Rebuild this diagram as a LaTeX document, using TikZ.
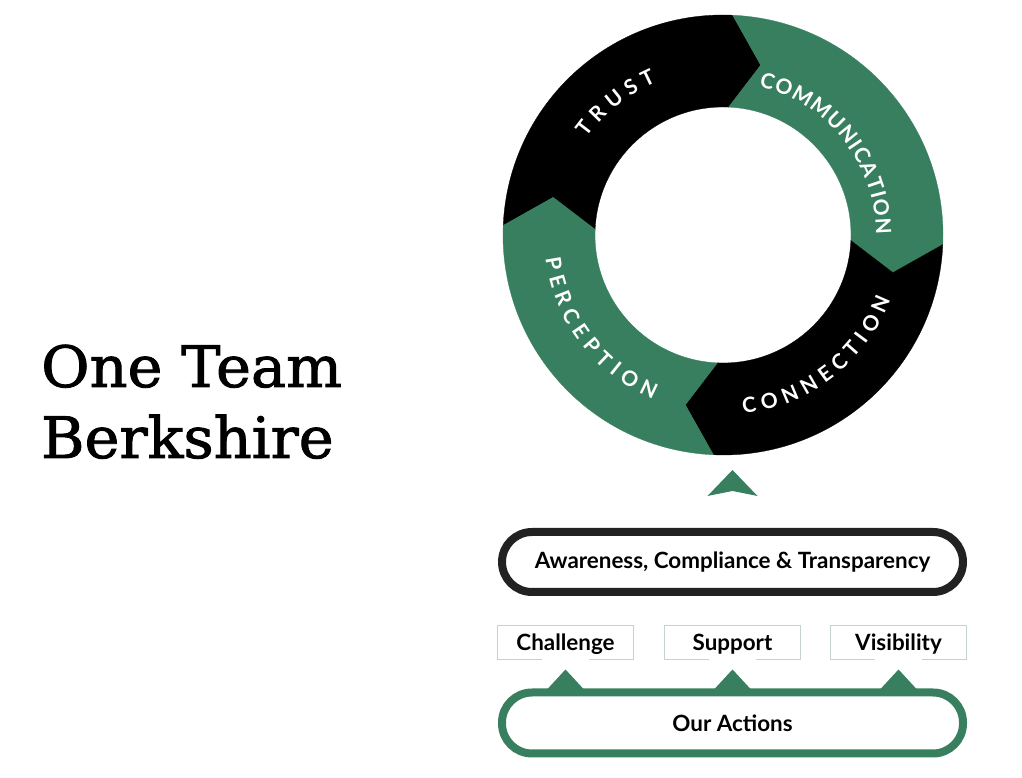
\documentclass[tikz,border=0pt]{standalone}
\usepackage{fontspec}
\setmainfont{Lato}
\newfontfamily\titlefont[FakeBold=1.6, FakeStretch=1.035]{DejaVu Serif}
\usetikzlibrary{positioning,calc,decorations.text}
\definecolor{teamgreen}{RGB}{55,127,95}
\definecolor{boxgray}{RGB}{200,210,205}
\definecolor{pilldark}{RGB}{34,34,34}
\newcommand\ringfont{\fontsize{21}{23}\selectfont\bfseries}
\tikzset{
  goal pill/.style={
    rectangle, rounded corners=30pt, draw=pilldark, line width=8pt,
    minimum width=461pt, minimum height=60pt, inner sep=0pt, outer sep=0pt,
    font=\fontsize{22.4}{27}\selectfont\bfseries
  },
  action pill/.style={goal pill, draw=teamgreen, minimum height=61pt, text depth=0pt},
  value box/.style={
    rectangle, draw=boxgray, line width=1pt,
    minimum width=136pt, minimum height=34pt, inner sep=0pt, outer sep=0pt,
    text depth=0pt, font=\fontsize{22.4}{27}\selectfont\bfseries
  },
  title text/.style={anchor=base west, inner sep=0pt,
    font=\titlefont\fontsize{57}{70}\selectfont},
  ring label/.style={decorate, decoration={text along path,
    text align=fit to path, text color=white, text={|\ringfont|#1}}}
}

\begin{document}
\begin{tikzpicture}[x=1pt, y=1pt]
  \useasboundingbox (0,0) rectangle (1022,778);

  % title
  \node[title text] (oneteam) at (41,391) {One Team};
  \node[title text] (berkshire) at ([yshift=-71pt]oneteam.base west) {Berkshire};

  % the cycle
  \begin{scope}[shift={(723,543)}]
    \foreach \a/\col in {177.5/black, 87.5/teamgreen, -2.5/black, -92.5/teamgreen}
      \filldraw[\col, line width=0.3pt] (\a:220) arc[start angle=\a, end angle=\a-90, radius=220]
        -- (\a-100:174) -- (\a-90:128) arc[start angle=\a-90, end angle=\a, radius=128]
        -- (\a-10:174) -- cycle;
    \path[ring label={TRUST}] (144.5:167) arc[start angle=144.5, end angle=113.5, radius=167];
    \path[ring label={COMMUNICATION}] (76.5:153) arc[start angle=76.5, end angle=0, radius=153];
    \path[ring label={CONNECTION}] (276.5:180) arc[start angle=276.5, end angle=339, radius=180];
    \path[ring label={PERCEPTION}] (187.5:179) arc[start angle=187.5, end angle=247, radius=179];
  \end{scope}

  % foundations
  \node[goal pill] (goal) at (732.5,216) {Awareness, Compliance \& Transparency};
  \node[value box, below=33.5pt of goal] (support) {Support};
  \node[value box, left=31pt of support] (challenge) {Challenge};
  \node[value box, right=30pt of support] (visibility) {Visibility};
  \node[action pill, below=33pt of support] (actions) {Our Actions};

  \fill[teamgreen] ($(goal.north)+(-25,36)$) -- ($(goal.north)+(0,62)$)
    -- ($(goal.north)+(25,36)$) -- ($(goal.north)+(0,41)$) -- cycle;
  \foreach \val in {challenge, support, visibility} {
    \draw[white, line width=2pt] ($(\val.south)+(-23.5,0)$) -- ($(\val.south)+(23.5,0)$);
    \fill[teamgreen] ($(\val.south |- actions.north)+(-18.5,3)$) -- ($(\val.south)+(0,-10)$)
      -- ($(\val.south |- actions.north)+(18.5,3)$) -- cycle;
  }
\end{tikzpicture}
\end{document}
